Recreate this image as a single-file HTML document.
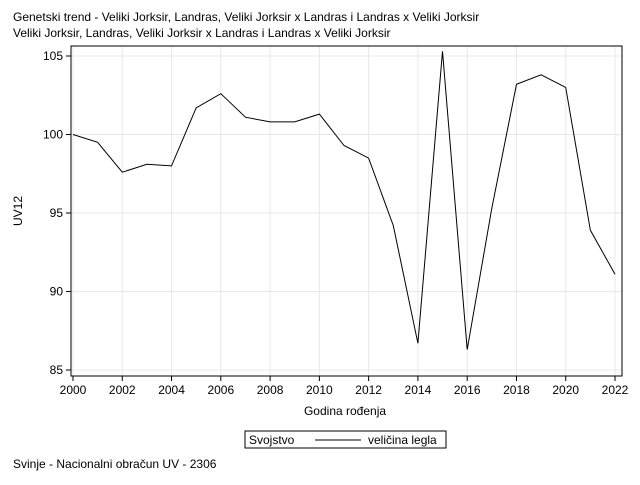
<!DOCTYPE html>
<html><head><meta charset="utf-8"><style>
body{margin:0;background:#fff;width:640px;height:480px;overflow:hidden;font-family:"Liberation Sans",sans-serif}
svg text{font-family:"Liberation Sans",sans-serif;font-size:12px;fill:#000}
</style></head><body>
<svg id="c" width="640" height="480">
<text x="13" y="21">Genetski trend - Veliki Jorksir, Landras, Veliki Jorksir x Landras i Landras x Veliki Jorksir</text>
<text x="13" y="37">Veliki Jorksir, Landras, Veliki Jorksir x Landras i Landras x Veliki Jorksir</text>
<g id="grid"></g>
<g id="axes"></g>
<path id="line" fill="none" stroke="#000" stroke-width="1"/>
<rect x="71" y="46" width="551" height="330" fill="none" stroke="#000"/>
<text x="345" y="415" text-anchor="middle">Godina rođenja</text>
<text transform="translate(22,211) rotate(-90)" text-anchor="middle">UV12</text>
<g>
<rect x="245" y="431" width="201" height="17" fill="none" stroke="#000"/>
<text x="249" y="444">Svojstvo</text>
<line x1="315" y1="440" x2="361" y2="440" stroke="#000"/>
<text x="368" y="444">veličina legla</text>
</g>
<text x="13" y="468">Svinje - Nacionalni obračun UV - 2306</text>
</svg>
<script>
const years=[2000,2001,2002,2003,2004,2005,2006,2007,2008,2009,2010,2011,2012,2013,2014,2015,2016,2017,2018,2019,2020,2021,2022];
const values=[100.0,99.5,97.6,98.1,98.0,101.7,102.6,101.1,100.8,100.8,101.3,99.3,98.5,94.2,86.7,105.3,86.3,95.3,103.2,103.8,103.0,93.9,91.1];
const xTicks=[2000,2002,2004,2006,2008,2010,2012,2014,2016,2018,2020,2022];
const yTicks=[85,90,95,100,105];
const X=v=>73+(v-2000)*(615-73)/22;
const Y=v=>370-(v-85)*(370-56)/20;
const ns="http://www.w3.org/2000/svg";
const g=document.getElementById('grid'),a=document.getElementById('axes');
function mk(t,at,p){const e=document.createElementNS(ns,t);for(const k in at)e.setAttribute(k,at[k]);p.appendChild(e);return e;}
xTicks.forEach(t=>{
 const l=mk('line',{x1:X(t),x2:X(t),y1:46,y2:376,stroke:'#e8e8e8'},g);
 
 
 const k=mk('line',{x1:X(t),x2:X(t),y1:376,y2:381,stroke:'#000'},a);
 
 
 const tx=mk('text',{x:X(t),y:394,'text-anchor':'middle'},a);tx.textContent=t;
 
 
});
yTicks.forEach(t=>{
 const l=mk('line',{x1:71,x2:622,y1:Y(t),y2:Y(t),stroke:'#e8e8e8'},g);
 
 
 const k=mk('line',{x1:66,x2:71,y1:Y(t),y2:Y(t),stroke:'#000'},a);
 
 
 const tx=mk('text',{x:63,y:Y(t)+4,'text-anchor':'end'},a);tx.textContent=t;
 
 
});
document.getElementById('line').setAttribute('d',years.map((y,i)=>(i?'L':'M')+X(y).toFixed(1)+','+Y(values[i]).toFixed(1)).join(''));
</script>
</body></html>
